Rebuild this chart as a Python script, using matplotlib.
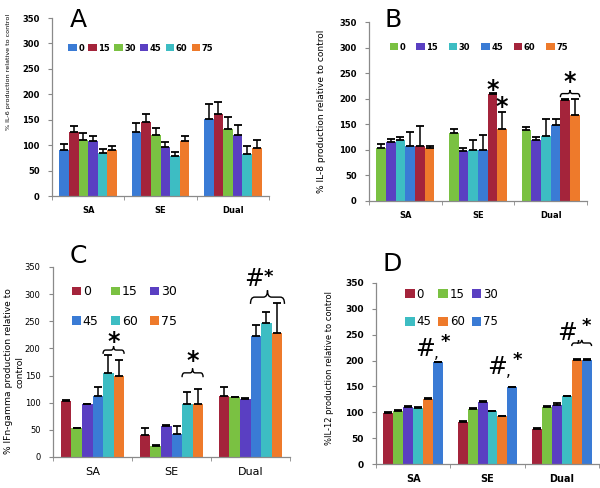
import numpy as np
import matplotlib
matplotlib.use("Agg")
import matplotlib.pyplot as plt
from matplotlib.path import Path
from matplotlib.patches import PathPatch

groups = ["SA", "SE", "Dual"]
doses = ["0", "15", "30", "45", "60", "75"]

BLUE = "#3a7bd5"; RED = "#a4243b"; GREEN = "#7ac142"
PURPLE = "#5a3fc2"; TEAL = "#3dbdc3"; ORANGE = "#ee7a2b"

# values[group][dose]
il6_vals = [[91, 125, 111, 108, 84, 91],
            [125, 146, 120, 97, 78, 108],
            [151, 161, 131, 120, 82, 95]]
il6_err = [[12, 12, 12, 10, 9, 8],
           [19, 15, 13, 10, 9, 10],
           [29, 24, 25, 19, 17, 15]]
il6_colors = [BLUE, RED, GREEN, PURPLE, TEAL, ORANGE]

il8_vals = [[103, 115, 119, 108, 108, 103],
            [132, 98, 100, 100, 210, 140],
            [138, 119, 127, 149, 198, 168]]
il8_err = [[8, 6, 6, 26, 39, 5],
           [8, 6, 19, 30, 1, 34],
           [7, 6, 33, 11, 1, 32]]
il8_colors = [GREEN, PURPLE, TEAL, BLUE, RED, ORANGE]

ifn_vals = [[104, 53, 97, 113, 155, 149],
            [40, 20, 58, 43, 98, 98],
            [112, 110, 107, 222, 247, 228]]
ifn_err = [[1, 1, 1, 16, 32, 30],
           [14, 2, 1, 15, 22, 28],
           [17, 1, 1, 22, 20, 56]]
ifn_colors = [RED, GREEN, PURPLE, BLUE, TEAL, ORANGE]

il12_vals = [[99, 103, 110, 108, 126, 197],
             [82, 106, 120, 102, 92, 148],
             [68, 110, 115, 131, 202, 202]]
il12_err = [[1, 2, 2, 2, 1, 1],
            [1, 2, 2, 1, 1, 1],
            [1, 2, 2, 1, 1, 1]]
il12_colors = [RED, GREEN, PURPLE, TEAL, ORANGE, BLUE]

W = 0.8 / 6

def xpos(g, d, gw=0.8):
    w = gw / 6
    return g - gw / 2 + w * (d + 0.5)

def draw_panel(ax, vals, errs, colors, gw=0.8, tick_fs=6, tick_bold=True, cat_fs=6, cat_bold=True):
    vals = np.array(vals, float); errs = np.array(errs, float)
    w = gw / 6
    x = np.arange(len(groups))
    handles = []
    for d in range(len(doses)):
        xs = x - gw / 2 + w * (d + 0.5)
        b = ax.bar(xs, vals[:, d], width=w, color=colors[d], label=doses[d],
                   yerr=[np.zeros(len(groups)), errs[:, d]], capsize=2.6,
                   error_kw=dict(elinewidth=1.1, capthick=1.3, ecolor="black"),
                   zorder=2)
        handles.append(b)
    ax.set_xlim(-0.5, 2.5)
    ax.set_ylim(0, 350)
    ax.set_yticks(np.arange(0, 351, 50))
    ax.set_xticks(x)
    ax.set_xticks([-0.5, 0.5, 1.5, 2.5], minor=True)
    fw = "bold" if tick_bold else "normal"
    ax.set_xticklabels(groups, fontsize=cat_fs, fontweight="bold" if cat_bold else "normal")
    for t in ax.get_yticklabels():
        t.set_fontsize(tick_fs); t.set_fontweight(fw)
    ax.tick_params(axis="x", which="major", length=0, pad=7)
    ax.tick_params(axis="x", which="minor", length=3, color="#888888", direction="out")
    ax.tick_params(axis="y", length=3, color="#888888", direction="out", pad=6)
    for s in ["top", "right"]:
        ax.spines[s].set_visible(False)
    for s in ["left", "bottom"]:
        ax.spines[s].set_color("#8a8a8a"); ax.spines[s].set_linewidth(0.9)
    return handles

def brace(ax, x0, x1, y0, h, lw=1.0):
    xm = (x0 + x1) / 2
    r = (x1 - x0) * 0.12
    ym = y0 + h / 2
    verts = [(x0, y0), (x0, ym), (x0 + r, ym),
             (xm - r, ym), (xm, ym), (xm, y0 + h),
             (xm, ym), (xm + r, ym),
             (x1 - r, ym), (x1, ym), (x1, y0)]
    codes = [Path.MOVETO, Path.CURVE3, Path.CURVE3,
             Path.LINETO, Path.CURVE3, Path.CURVE3,
             Path.CURVE3, Path.CURVE3,
             Path.LINETO, Path.CURVE3, Path.CURVE3]
    ax.add_patch(PathPatch(Path(verts, codes), fill=False, lw=lw, color="black", zorder=3))

fig = plt.figure(figsize=(6, 4.88), dpi=100)

def axrect(l, r, t, b):
    return fig.add_axes([l / 600, (488 - b) / 488, (r - l) / 600, (b - t) / 488])

# Panel A
axA = axrect(52, 269, 18, 196)
hA = draw_panel(axA, il6_vals, il6_err, il6_colors)
axA.legend(handles=hA, labels=doses, ncol=6, loc="center left", bbox_to_anchor=(0.06, 0.83),
           frameon=False, handlelength=1.0, handleheight=0.9, handletextpad=0.2,
           columnspacing=0.5, prop=dict(size=6, weight="bold"), borderaxespad=0)
axA.set_ylabel("% IL-6 production relative to control", fontsize=4.6)
axA.yaxis.set_label_coords(-0.19, 0.70)

# Panel B
axB = axrect(369, 587, 22, 201)
hB = draw_panel(axB, il8_vals, il8_err, il8_colors)
axB.legend(handles=hB, labels=doses, ncol=6, loc="center left", bbox_to_anchor=(0.08, 0.86),
           frameon=False, handlelength=1.0, handleheight=0.9, handletextpad=0.2,
           columnspacing=1.3, prop=dict(size=6, weight="bold"), borderaxespad=0)
axB.set_ylabel("% IL-8 production relative to control", fontsize=6.5)
axB.yaxis.set_label_coords(-0.197, 0.5)
sb = dict(fontsize=17, fontweight="bold", ha="center", va="center", zorder=4)
axB.text(xpos(1, 4), 218, "*", **sb)
axB.text(xpos(1, 5), 183, "*", **sb)
brace(axB, xpos(2, 4) - W / 2, xpos(2, 5) + W / 2, 203, 14)
axB.text((xpos(2, 4) + xpos(2, 5)) / 2, 233, "*", **sb)

# Panel C
axC = axrect(53, 290, 267, 457)
hC = draw_panel(axC, ifn_vals, ifn_err, ifn_colors, tick_fs=6, tick_bold=False,
                cat_fs=8, cat_bold=False)
order = [0, 3, 1, 4, 2, 5]
axC.legend(handles=[hC[i] for i in order], labels=[doses[i] for i in order], ncol=3,
           loc="upper left", bbox_to_anchor=(0.06, 0.93), frameon=False,
           handlelength=0.7, handleheight=0.7, handletextpad=0.15, columnspacing=1.0,
           labelspacing=1.35, prop=dict(size=9), borderaxespad=0)
axC.set_ylabel("% IFn-gamma production relative to\ncontrol", fontsize=6.6, linespacing=1.35)
axC.yaxis.set_label_coords(-0.122, 0.45)
brace(axC, xpos(0, 4) - W / 2, xpos(0, 5) + W / 2, 190, 14)
axC.text((xpos(0, 4) + xpos(0, 5)) / 2, 212, "*", **sb)
brace(axC, xpos(1, 4) - W / 2, xpos(1, 5) + W / 2, 147, 16)
axC.text((xpos(1, 4) + xpos(1, 5)) / 2, 177, "*", **sb)
brace(axC, xpos(2, 3) - W / 2, xpos(2, 5) + W / 2 + 0.03, 282, 25)
axC.text(xpos(2, 4) - 0.03, 328, "#", fontsize=17, ha="right", va="center")
axC.text(xpos(2, 4) - 0.03, 331, "*", fontsize=13, fontweight="bold", ha="left", va="center")

# Panel D
axD = axrect(376, 599, 283, 464)
hD = draw_panel(axD, il12_vals, il12_err, il12_colors, tick_fs=6.5, cat_fs=7)
axD.legend(handles=[hD[i] for i in order], labels=[doses[i] for i in order], ncol=3,
           loc="upper left", bbox_to_anchor=(0.11, 1.0), frameon=False,
           handlelength=0.8, handleheight=0.8, handletextpad=0.15, columnspacing=0.6,
           labelspacing=1.25, prop=dict(size=8.5), borderaxespad=0)
axD.set_ylabel("%IL-12 production relative to control", fontsize=6.0)
axD.yaxis.set_label_coords(-0.19, 0.53)

def hash_star(ax, x, y, fs=17):
    ax.text(x - 0.02, y, "#", fontsize=fs, ha="right", va="center", zorder=4)
    ax.text(x, y - 8, ",", fontsize=11, ha="center", va="center", zorder=4)
    ax.text(x + 0.05, y + 14, "*", fontsize=13, fontweight="bold", ha="left", va="center", zorder=4)

hash_star(axD, xpos(0, 5) - 0.02, 222)
hash_star(axD, xpos(1, 5) - 0.05, 187)
brace(axD, xpos(2, 4) - W / 2, xpos(2, 5) + W / 2, 228, 12)
hash_star(axD, (xpos(2, 4) + xpos(2, 5)) / 2 - 0.05, 253)

# panel letters
for lab, px, py in [("A", 78, 20), ("B", 393, 20), ("C", 78, 256), ("D", 392, 264)]:
    fig.text(px / 600, 1 - py / 488, lab, fontsize=18, ha="center", va="center")

fig.savefig("out.png", dpi=100)
